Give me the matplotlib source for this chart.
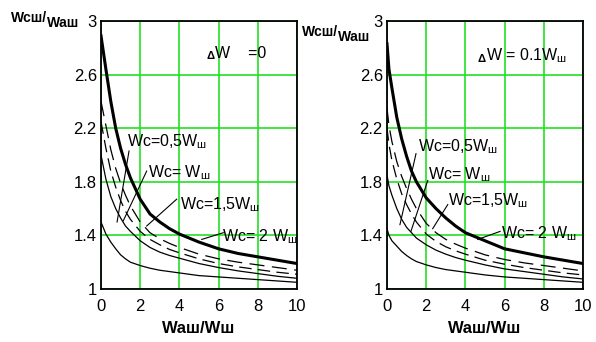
import numpy as np
import matplotlib
matplotlib.use("Agg")
import matplotlib.pyplot as plt

plt.rcParams['font.family'] = ['Liberation Sans', 'DejaVu Sans']
plt.rcParams['mathtext.fontset'] = 'custom'
plt.rcParams['mathtext.rm'] = 'Liberation Sans'

x_left = [0, 0.25, 0.5, 0.75, 1, 1.25, 1.5, 2, 2.5, 3, 3.5, 4, 5, 6, 7, 8, 9, 10]
x_right = [0, 0.1, 0.25, 0.5, 0.75, 1, 1.25, 1.5, 2, 2.5, 3, 3.5, 4, 5, 6, 7, 8, 9, 10]

# dW = 0
left_wc2 = [2.89, 2.64, 2.40, 2.20, 2.05, 1.93, 1.83, 1.67, 1.56, 1.50, 1.45, 1.41, 1.35, 1.30, 1.265, 1.24, 1.215, 1.19]
left_wc15 = [2.40, 2.22, 2.04, 1.90, 1.79, 1.70, 1.62, 1.50, 1.42, 1.375, 1.34, 1.31, 1.26, 1.225, 1.20, 1.18, 1.16, 1.14]
left_wc1 = [2.25, 2.05, 1.88, 1.76, 1.66, 1.58, 1.52, 1.43, 1.37, 1.33, 1.295, 1.27, 1.225, 1.19, 1.165, 1.145, 1.125, 1.11]
left_wc05 = [2.0, 1.82, 1.69, 1.60, 1.53, 1.47, 1.43, 1.36, 1.31, 1.275, 1.25, 1.23, 1.19, 1.16, 1.135, 1.115, 1.095, 1.08]
left_low = [1.50, 1.41, 1.35, 1.30, 1.255, 1.225, 1.20, 1.175, 1.155, 1.14, 1.13, 1.12, 1.10, 1.09, 1.08, 1.07, 1.06, 1.05]

# dW = 0.1 Wш
right_wc2 = [2.83, 2.64, 2.50, 2.28, 2.12, 1.99, 1.88, 1.80, 1.68, 1.60, 1.53, 1.47, 1.42, 1.36, 1.30, 1.27, 1.24, 1.215, 1.19]
right_wc15 = [2.35, 2.22, 2.10, 1.95, 1.84, 1.75, 1.67, 1.60, 1.49, 1.42, 1.37, 1.335, 1.305, 1.255, 1.22, 1.195, 1.175, 1.155, 1.135]
right_wc1 = [2.20, 2.08, 1.96, 1.82, 1.71, 1.63, 1.56, 1.50, 1.41, 1.355, 1.315, 1.285, 1.26, 1.215, 1.185, 1.16, 1.14, 1.12, 1.105]
right_wc05 = [1.85, 1.77, 1.70, 1.60, 1.52, 1.46, 1.42, 1.38, 1.33, 1.29, 1.26, 1.235, 1.215, 1.18, 1.15, 1.13, 1.11, 1.09, 1.075]
right_low = [1.45, 1.40, 1.36, 1.32, 1.28, 1.25, 1.225, 1.205, 1.18, 1.16, 1.145, 1.135, 1.125, 1.105, 1.09, 1.08, 1.07, 1.06, 1.05]

y_ticks = [1, 1.4, 1.8, 2.2, 2.6, 3]
y_tick_labels = ['1', '1.4', '1.8', '2.2', '2.6', '3']
x_ticks = [0, 2, 4, 6, 8, 10]

labels = ['Wс=0,5W$_\\mathregular{ш}$', 'Wс= W$_\\mathregular{ш}$',
          'Wс=1,5W$_\\mathregular{ш}$', 'Wс= 2 W$_\\mathregular{ш}$']

# label position, leader start, leader end (data coords)
left_notes = [((1.33, 2.10), (1.43, 2.03), (0.82, 1.50)),
              ((2.40, 1.87), (2.33, 1.88), (1.14, 1.51)),
              ((4.03, 1.63), (3.86, 1.67), (2.33, 1.47)),
              ((6.17, 1.39), (6.24, 1.42), (5.14, 1.37))]
right_notes = [((1.58, 2.06), (1.48, 2.01), (0.66, 1.48)),
               ((2.09, 1.85), (2.08, 1.81), (1.22, 1.43)),
               ((3.11, 1.66), (3.10, 1.63), (2.33, 1.45)),
               ((5.82, 1.41), (5.77, 1.43), (4.63, 1.37))]

GREEN = '#22e022'

fig = plt.figure(figsize=(5.96, 3.42), dpi=100)
ax1 = fig.add_axes([101 / 596, 53 / 342, 196 / 596, 268 / 342])
ax2 = fig.add_axes([387 / 596, 53 / 342, 196 / 596, 268 / 342])


def draw(ax, xs, wc2, wc15, wc1, wc05, low, notes):
    ax.plot(xs, low, color='black', lw=0.9)
    ax.plot(xs, wc05, color='black', lw=0.9)
    ax.plot(xs, wc1, color='black', lw=0.9, dashes=(10, 5))
    ax.plot(xs, wc15, color='black', lw=0.9, dashes=(12, 6))
    ax.plot(xs, wc2, color='black', lw=2.2)
    ax.set_xlim(0, 10)
    ax.set_ylim(1, 3)
    ax.set_xticks(x_ticks)
    ax.set_yticks(y_ticks)
    ax.set_yticklabels(y_tick_labels)
    ax.tick_params(length=0, labelsize=12, pad=7)
    ax.tick_params(axis='y', pad=3)
    ax.grid(True, color=GREEN, lw=1.2)
    ax.set_axisbelow(True)
    for sp in ax.spines.values():
        sp.set_linewidth(1.3)
    for lab, (pos, p0, p1) in zip(labels, notes):
        ax.text(pos[0], pos[1], lab, fontsize=11.5, ha='left', va='center')
        ax.plot([p0[0], p1[0]], [p0[1], p1[1]], color='black', lw=0.8)
    ax.set_xlabel('Wаш/Wш', fontsize=12, fontweight='bold', labelpad=5)


draw(ax1, x_left, left_wc2, left_wc15, left_wc1, left_wc05, left_low, left_notes)
draw(ax2, x_right, right_wc2, right_wc15, right_wc1, right_wc05, right_low, right_notes)

# y axis captions, written as a slanted fraction
fig.text(11 / 596, 1 - 18 / 342, 'Wсш/', fontsize=10, fontweight='bold', va='center')
fig.text(47 / 596, 1 - 23 / 342, 'Wаш', fontsize=10, fontweight='bold', va='center')
fig.text(302 / 596, 1 - 32 / 342, 'Wсш/', fontsize=10, fontweight='bold', va='center')
fig.text(338 / 596, 1 - 37 / 342, 'Wаш', fontsize=10, fontweight='bold', va='center')

# dW captions
ax1.text(5.38, 2.74, 'Δ', fontsize=8, fontweight='bold', ha='left', va='center')
ax1.text(5.80, 2.76, 'W    =0', fontsize=11.5, ha='left', va='center')
ax2.text(4.61, 2.72, 'Δ', fontsize=8, fontweight='bold', ha='left', va='center')
ax2.text(5.03, 2.74, 'W = 0.1W$_\\mathregular{ш}$', fontsize=11.5, ha='left', va='center')

fig.savefig('out.png', dpi=100)
